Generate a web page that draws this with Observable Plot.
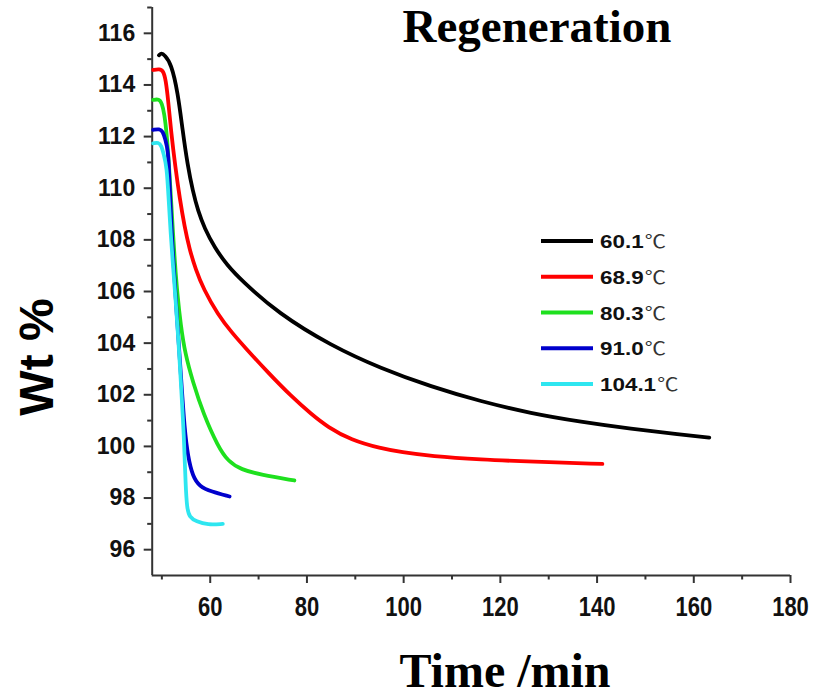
<!DOCTYPE html>
<html><head><meta charset="utf-8">
<script src="https://cdn.jsdelivr.net/npm/d3@7"></script>
<script src="https://cdn.jsdelivr.net/npm/@observablehq/plot@0.6"></script>
<style>
html,body{margin:0;padding:0;background:#fff;}
#wrap{position:relative;width:816px;height:698px;overflow:hidden;background:#fff;}
#chart,#overlay{position:absolute;left:0;top:0;}
</style></head>
<body>
<div id="wrap">
  <div id="chart"></div>
  <svg id="overlay" width="816" height="698"></svg>
</div>
<script>
// ---- data ----
const seriesTemps = ["60.1", "68.9", "80.3", "91.0", "104.1"];
const unit = "℃";
const seriesColors = ["#000000", "#ff0000", "#1ee01e", "#0000cc", "#2ee6f0"];

const t601 = [49.4, 49.9, 50.6, 51.9, 53.3, 54.3, 55.3, 56.4, 57.5, 58.8, 60.9, 63.5, 66.4, 74.0, 85.0, 95.3, 105.7, 116.0, 126.3, 136.7, 147.0, 157.3, 163.2];
const w601 = [115.15, 115.24, 115.15, 114.84, 113.72, 112.22, 110.92, 109.88, 109.11, 108.46, 107.7, 107.02, 106.44, 105.16, 103.9, 103.02, 102.31, 101.74, 101.28, 100.95, 100.68, 100.46, 100.34];

const t689 = [48.2, 49.5, 50.3, 50.8, 51.3, 51.9, 52.8, 53.7, 54.7, 55.7, 57.0, 58.6, 61.6, 64.5, 67.1, 72.0, 76.7, 80.9, 84.3, 89.1, 95.3, 99.5, 105.7, 116.0, 126.3, 141.1];
const w689 = [114.58, 114.62, 114.55, 114.2, 113.42, 112.2, 110.8, 109.6, 108.5, 107.65, 106.85, 106.1, 105.1, 104.4, 103.85, 102.85, 101.95, 101.25, 100.75, 100.25, 99.92, 99.78, 99.62, 99.49, 99.41, 99.32];

const t803 = [48.2, 49.4, 50.0, 50.5, 51.0, 51.5, 51.9, 52.3, 52.7, 53.2, 53.9, 54.8, 56.4, 58.6, 61.6, 63.7, 66.4, 70.5, 77.4];
const w803 = [113.42, 113.46, 113.3, 112.9, 112.13, 110.84, 109.55, 108.26, 107.1, 105.9, 104.7, 103.6, 102.5, 101.25, 100.0, 99.42, 99.1, 98.9, 98.68];

const t910 = [48.2, 49.5, 50.2, 50.7, 51.3, 51.6, 51.9, 52.1, 53.0, 54.0, 54.7, 55.4, 56.4, 57.8, 60.2, 64.0];
const w910 = [112.26, 112.3, 112.2, 111.9, 111.48, 110.19, 108.9, 108.0, 105.3, 102.58, 100.64, 99.6, 98.83, 98.45, 98.25, 98.06];

const t1041 = [48.2, 49.3, 49.9, 50.4, 51.0, 51.4, 51.8, 52.3, 52.8, 53.5, 53.9, 54.6, 54.9, 55.2, 55.7, 57.1, 59.5, 62.6];
const w1041 = [111.74, 111.78, 111.65, 111.3, 110.84, 109.6, 108.3, 107.0, 105.8, 103.87, 102.58, 100.3, 98.5, 97.6, 97.26, 97.09, 96.96, 97.0];

const xTicks = [60, 80, 100, 120, 140, 160, 180];
const xMinorTicks = [50, 70, 90, 110, 130, 150, 170];
const yTicks = [96, 98, 100, 102, 104, 106, 108, 110, 112, 114, 116];
const yMinorTicks = [97, 99, 101, 103, 105, 107, 109, 111, 113, 115, 117];
const xDomain = [48, 180];
const yDomain = [95, 117];

// ---- build table ----
const times = [t601, t689, t803, t910, t1041];
const weights = [w601, w689, w803, w910, w1041];
const seriesNames = seriesTemps.map(s => s + unit);
const data = seriesNames.flatMap((s, i) => times[i].map((t, j) => ({series: s, t, w: weights[i][j]})));

const sans = "'Liberation Sans', Arial, Helvetica, sans-serif";

const chart = Plot.plot({
  width: 816,
  height: 698,
  marginLeft: 151.7,
  marginRight: 26,
  marginTop: 7,
  marginBottom: 123,
  style: {fontFamily: sans, background: "transparent", overflow: "visible"},
  x: {domain: xDomain},
  y: {domain: yDomain},
  color: {domain: seriesNames, range: seriesColors},
  marks: [
    Plot.axisY(yTicks, {tickSize: 8, tickPadding: 9, fontSize: 23, fontWeight: "bold", fontFamily: sans, fill: "#111", stroke: "#333", strokeWidth: 2, label: null}),
    Plot.axisY(yMinorTicks, {tickSize: 4.5, tickFormat: () => "", stroke: "#333", strokeWidth: 2, label: null}),
    Plot.axisX(xTicks, {tickSize: 8, tickPadding: 13, fontSize: 22, fontWeight: "bold", fontFamily: sans, fill: "#111", stroke: "#333", strokeWidth: 2, label: null}),
    Plot.axisX(xMinorTicks, {tickSize: 4.5, tickFormat: () => "", stroke: "#333", strokeWidth: 2, label: null}),
    Plot.ruleX([xDomain[0]], {stroke: "#333", strokeWidth: 2}),
    Plot.ruleY([yDomain[0]], {stroke: "#333", strokeWidth: 2}),
    Plot.line(data, {x: "t", y: "w", z: "series", stroke: "series", strokeWidth: 3.8, curve: "basis", strokeLinecap: "round", strokeLinejoin: "round"})
  ]
});
document.getElementById("chart").appendChild(chart);

// stretch the x tick labels vertically like the reference
d3.select(chart).selectAll('g[aria-label="x-axis tick label"] text').each(function () {
  const tr = this.getAttribute("transform");
  if (tr) this.setAttribute("transform", tr + " scale(1,1.25)");
});

// ---- overlay texts & legend ----
const ov = d3.select("#overlay");
ov.append("text").attr("x", 537).attr("y", 42).attr("text-anchor", "middle")
  .attr("font-family", "'Liberation Serif', 'Times New Roman', serif").attr("font-weight", "bold")
  .attr("font-size", 47).text("Regeneration");
ov.append("text").attr("x", 505).attr("y", 687).attr("text-anchor", "middle")
  .attr("font-family", "'Liberation Serif', 'Times New Roman', serif").attr("font-weight", "bold")
  .attr("font-size", 48).text("Time /min");
ov.append("text").attr("transform", "translate(53,357) rotate(-90)").attr("text-anchor", "middle")
  .attr("font-family", sans).attr("font-weight", "bold").attr("font-size", 48).text("Wt %");

const lg = ov.append("g");
seriesTemps.forEach((s, i) => {
  const y = 241 + i * 35.75;
  lg.append("line").attr("x1", 541).attr("x2", 593).attr("y1", y).attr("y2", y)
    .attr("stroke", seriesColors[i]).attr("stroke-width", 4);
  const g = lg.append("g").attr("transform", `translate(600,${y + 7}) scale(1.18,1)`);
  const tx = g.append("text").attr("x", 0).attr("y", 0).attr("fill", "#111");
  tx.append("tspan").attr("font-family", sans).attr("font-weight", "bold").attr("font-size", 19).text(s);
  tx.append("tspan").attr("dx", 1).attr("font-family", "'Noto Sans CJK SC', 'Noto Sans', sans-serif")
    .attr("font-weight", "normal").attr("font-size", 18).attr("fill", "#333").text(unit);
});
</script>
</body></html>
